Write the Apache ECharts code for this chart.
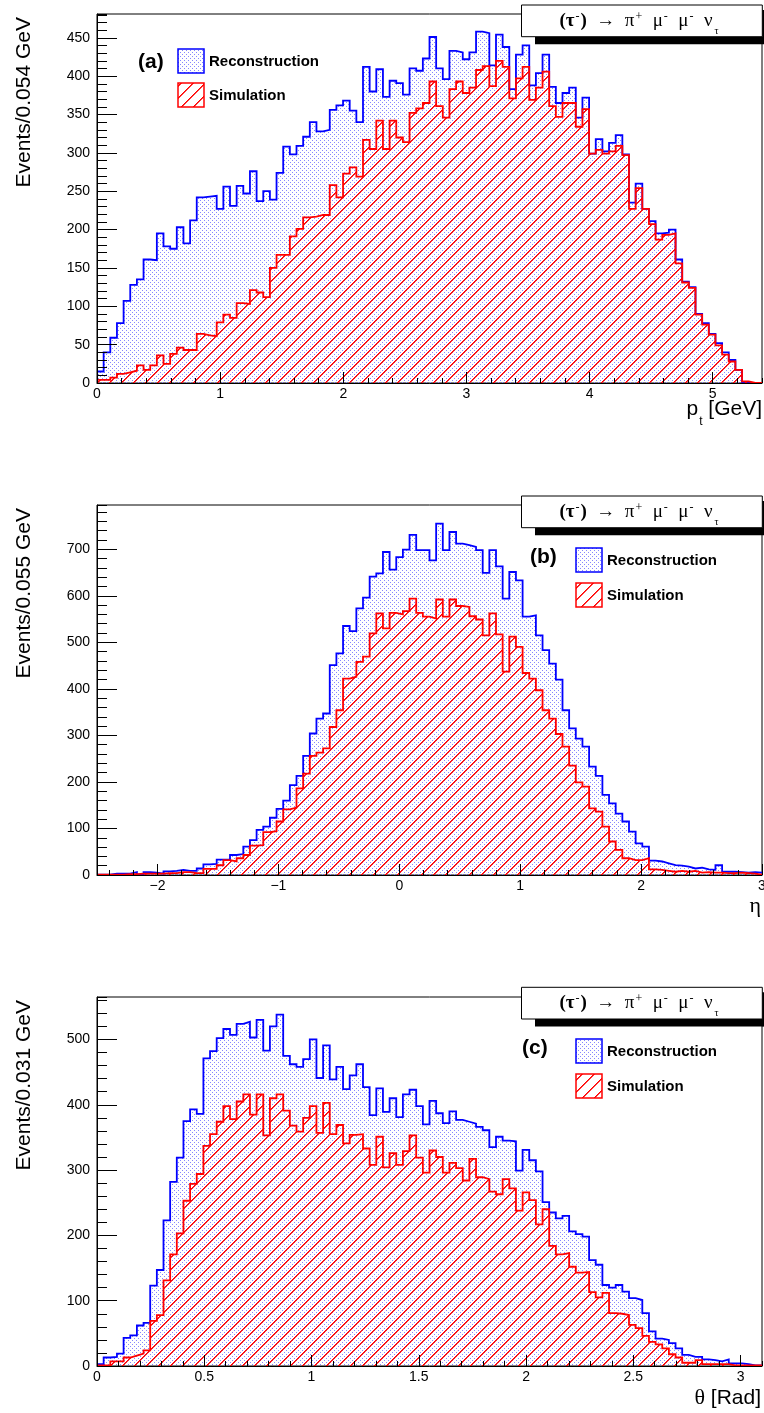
<!DOCTYPE html>
<html><head><meta charset="utf-8">
<script src="https://cdn.jsdelivr.net/npm/echarts@6/dist/echarts.min.js"></script>
<style>html,body{margin:0;padding:0;background:#fff}#c{width:764px;height:1413px}</style>
</head><body><div id="c"></div>
<script>
// ---------------- data ----------------
const seriesNames = ['Reconstruction', 'Simulation'];
const panelTags = ['(a)', '(b)', '(c)'];
const yTitles = ['Events/0.054 GeV', 'Events/0.055 GeV', 'Events/0.031 GeV'];

// bins: (a) pt 0..5.4, 100 bins; (b) eta -2.5..3.0, 100 bins; (c) theta 0..3.1, 100 bins
const PT_MIN = 0, PT_BIN = 0.054;
const ETA_MIN = -2.5, ETA_BIN = 0.055;
const TH_MIN = 0, TH_BIN = 0.031;

const recoPt = [15,40,59,78,107,128,135,161,160,195,
178,175,203,182,212,242,243,244,227,256,
231,257,247,276,237,250,239,274,308,298,
309,321,340,328,330,356,362,368,355,340,
412,380,409,373,394,391,376,410,407,423,
451,410,396,433,431,422,431,458,456,414,
454,438,383,428,440,388,404,428,386,365,
378,385,346,372,299,318,302,313,323,298,
235,260,227,211,195,196,200,161,132,125,
90,78,64,52,40,30,17,0,0,0];
const simPt = [4,4,7,12,14,16,23,17,23,36,
25,38,46,43,43,64,62,61,79,89,
85,104,103,121,118,112,150,167,167,191,
201,216,217,219,219,258,242,273,281,269,
317,305,342,305,342,320,314,352,358,365,
393,361,346,383,393,378,385,408,413,387,
420,412,371,397,412,369,385,406,361,347,
365,365,334,357,299,304,299,302,309,297,
227,254,227,207,187,193,195,156,131,124,
89,76,63,49,37,28,17,2,0,0];

const recoEta = [1,1,3,3,3,6,1,6,5,3,
8,9,11,9,9,14,23,24,33,33,
43,45,61,75,97,104,123,142,160,193,
213,256,304,336,347,451,476,535,524,573,
596,641,648,694,656,683,699,731,698,698,
676,755,698,737,712,709,705,698,649,698,
663,594,651,633,555,558,515,483,454,420,
354,315,293,276,233,213,172,154,132,115,
93,68,61,31,29,25,21,20,18,14,
16,12,11,21,7,7,6,5,6,5];
const simEta = [1,1,1,1,2,2,3,3,3,3,
4,4,6,6,4,4,13,13,21,32,
29,36,43,63,64,92,94,115,141,145,
186,218,256,263,272,318,354,422,426,458,
469,519,562,530,563,560,567,594,563,555,
551,592,555,592,578,576,556,549,515,562,
517,437,512,490,434,422,397,354,336,303,
276,235,199,190,143,136,104,72,54,36,
32,32,36,12,11,9,7,9,7,9,
5,6,5,5,4,4,5,4,3,1];

const recoTheta = [3,13,14,19,43,47,62,66,123,147,
223,282,319,375,393,386,471,482,502,516,
507,524,527,503,530,483,520,538,475,462,
458,470,500,441,491,439,458,424,445,462,
427,384,425,389,410,381,416,423,398,370,
406,387,372,390,377,374,371,366,361,335,
351,345,344,299,331,315,298,251,235,226,
230,206,202,198,162,155,124,120,124,114,
104,101,81,53,42,40,35,27,17,14,
14,10,9,7,10,4,4,3,1,1];
const simTheta = [1,1,7,7,13,16,19,24,69,78,
131,171,203,253,279,294,337,355,374,398,
378,405,416,385,416,353,410,416,391,368,
359,380,398,357,403,355,369,341,354,355,
333,308,351,304,326,308,329,353,319,296,
330,320,296,311,303,284,317,289,286,267,
263,286,272,238,266,254,217,240,184,171,
173,152,143,144,113,105,112,81,80,78,
63,58,46,37,33,27,18,13,5,5,
9,3,3,3,3,1,1,1,1,1];

// ---------------- helpers ----------------
function stepData(lo, w, vals) {
  const d = vals.map((v, i) => [+(lo + i * w).toFixed(5), v]);
  d.push([+(lo + vals.length * w).toFixed(5), vals[vals.length - 1]]);
  return d;
}
function dotCanvas() {
  const c = document.createElement('canvas'); c.width = 4; c.height = 4;
  const g = c.getContext('2d');
  g.fillStyle = 'rgb(135,135,255)'; g.fillRect(0, 0, 1, 1); g.fillRect(2, 2, 1, 1);
  return c;
}
function hatchCanvas() {
  const c = document.createElement('canvas'); c.width = 12; c.height = 12;
  const g = c.getContext('2d');
  for (let i = 0; i < 12; i++) {
    g.fillStyle = '#ff0000'; g.fillRect(i, 11 - i, 1, 1);
    g.fillStyle = 'rgba(255,0,0,0.75)'; g.fillRect(i, (12 - i) % 12, 1, 1);
  }
  return c;
}
const DOTS = dotCanvas(), HATCH = hatchCanvas();
const dotFill = { image: DOTS, repeat: 'repeat' };
const hatchFill = { image: HATCH, repeat: 'repeat' };

const SANS = 'Liberation Sans, Arial, sans-serif';
const SERIF = 'Liberation Serif, Times New Roman, serif';

const grids = [
  { top: 14, height: 369 },
  { top: 505, height: 370 },
  { top: 997, height: 369 }
];
const xSpec = [
  { min: 0, max: 5.4, major: { interval: 1 }, minor: { interval: 0.2 } },
  { min: -2.5, max: 3.0, major: { minInterval: 1, maxInterval: 1 }, minor: { minInterval: 0.2, maxInterval: 0.2 } },
  { min: 0, max: 3.1, major: { interval: 0.5 }, minor: { interval: 0.1 } }
];
const ySpec = [
  { max: 481, major: 50, minor: 10 },
  { max: 795, major: 100, minor: 20 },
  { max: 565, major: 100, minor: 20 }
];

function fmtNum(v) {
  const s = String(+v.toFixed(3));
  return v < 0 ? '\u2212' + s.slice(1) : s;
}

const xAxes = [], yAxes = [];
xSpec.forEach((s, g) => {
  xAxes.push(Object.assign({
    gridIndex: g, type: 'value', position: 'bottom', min: s.min, max: s.max, z: 10,
    axisLine: { show: true, onZero: false, lineStyle: { color: '#000', width: 1 } },
    axisTick: { show: true, inside: true, length: 11, lineStyle: { color: '#000', width: 1 } },
    axisLabel: { show: true, color: '#000', fontSize: 14, fontFamily: SANS, margin: 4,
      showMinLabel: s.min >= 0, showMaxLabel: g === 1, formatter: fmtNum },
    splitLine: { show: false }, minorTick: { show: false }
  }, s.major));
  xAxes.push(Object.assign({
    gridIndex: g, type: 'value', position: 'bottom', min: s.min, max: s.max, z: 10,
    axisLine: { show: false, onZero: false },
    axisTick: { show: true, inside: true, length: 5, lineStyle: { color: '#000', width: 1 } },
    axisLabel: { show: false }, splitLine: { show: false }
  }, s.minor));
});
ySpec.forEach((s, g) => {
  yAxes.push({
    gridIndex: g, type: 'value', position: 'left', min: 0, max: s.max, interval: s.major, z: 10,
    axisLine: { show: true, onZero: false, lineStyle: { color: '#000', width: 1 } },
    axisTick: { show: true, inside: true, length: 20, lineStyle: { color: '#000', width: 1 } },
    axisLabel: { show: true, color: '#000', fontSize: 14, fontFamily: SANS, margin: 7, showMaxLabel: false },
    splitLine: { show: false }
  });
  yAxes.push({
    gridIndex: g, type: 'value', position: 'left', min: 0, max: s.max, interval: s.minor, z: 10,
    axisLine: { show: false, onZero: false },
    axisTick: { show: true, inside: true, length: 10, lineStyle: { color: '#000', width: 1 } },
    axisLabel: { show: false }, splitLine: { show: false }
  });
});

const panels = [
  { lo: PT_MIN, w: PT_BIN, reco: recoPt, sim: simPt },
  { lo: ETA_MIN, w: ETA_BIN, reco: recoEta, sim: simEta },
  { lo: TH_MIN, w: TH_BIN, reco: recoTheta, sim: simTheta }
];
const series = [];
panels.forEach((p, g) => {
  series.push({
    name: seriesNames[0], type: 'line', xAxisIndex: 2 * g, yAxisIndex: 2 * g,
    data: stepData(p.lo, p.w, p.reco), step: 'end', symbol: 'none', showSymbol: false,
    lineStyle: { color: '#0000ff', width: 1.8, join: 'miter' }, itemStyle: { color: '#0000ff' },
    areaStyle: { color: dotFill, opacity: 1 }, z: 2, silent: true, animation: false
  });
  series.push({
    name: seriesNames[1], type: 'line', xAxisIndex: 2 * g, yAxisIndex: 2 * g,
    data: stepData(p.lo, p.w, p.sim), step: 'end', symbol: 'none', showSymbol: false,
    lineStyle: { color: '#ff0000', width: 1.8, join: 'miter' }, itemStyle: { color: '#ff0000' },
    areaStyle: { color: hatchFill, opacity: 1 }, z: 3, silent: true, animation: false
  });
});

// ---------------- decorations (titles, legends) ----------------
const graphic = [];
const titleBoxTop = [5, 496, 987.3];
const legendPos = [
  { tag: [138, 62], box: [178, 49], text: 209, dy: 34 },
  { tag: [530, 557], box: [576, 548], text: 607, dy: 35 },
  { tag: [522, 1048], box: [576, 1039], text: 607, dy: 35 }
];
const titleRich = {
  b: { fontFamily: SERIF, fontSize: 19, fontWeight: 'bold', lineHeight: 30, color: '#000' },
  n: { fontFamily: SERIF, fontSize: 19, lineHeight: 30, color: '#000' },
  sup: { fontFamily: SERIF, fontSize: 12, lineHeight: 11, verticalAlign: 'top', padding: [5, 1, 0, 1], color: '#000' },
  sub: { fontFamily: SERIF, fontSize: 10, lineHeight: 9, verticalAlign: 'top', padding: [20, 0, 0, 2], color: '#000' }
};
const titleText = '{b|(\u03c4}{sup|-}{b|)}{n|  \u2192  \u03c0}{sup|+}{n|  \u03bc}{sup|-}{n|  \u03bc}{sup|-}{n|  \u03bd}{sub|\u03c4}';

[0, 1, 2].forEach(g => {
  const t = titleBoxTop[g];
  graphic.push({ type: 'rect', z: 100, shape: { x: 535, y: t + 31.7, width: 229, height: 7.5 }, style: { fill: '#000' } });
  graphic.push({ type: 'rect', z: 100, shape: { x: 762, y: t + 5, width: 2, height: 34 }, style: { fill: '#000' } });
  graphic.push({ type: 'rect', z: 101, shape: { x: 521.5, y: t, width: 240.8, height: 31.7 }, style: { fill: '#fff', stroke: '#000', lineWidth: 1 } });
  graphic.push({ type: 'text', z: 102, x: 639, y: t + 16, style: { text: titleText, rich: titleRich, align: 'center', verticalAlign: 'middle', textAlign: 'center', textVerticalAlign: 'middle' } });

  const L = legendPos[g];
  graphic.push({ type: 'text', z: 102, x: L.tag[0], y: L.tag[1], style: { text: panelTags[g], font: 'bold 21px ' + SANS, fill: '#000', align: 'left', verticalAlign: 'middle', textAlign: 'left', textVerticalAlign: 'middle' } });
  graphic.push({ type: 'rect', z: 102, shape: { x: L.box[0], y: L.box[1], width: 26, height: 24 }, style: { fill: dotFill, stroke: '#0000ff', lineWidth: 1.5 } });
  graphic.push({ type: 'rect', z: 102, shape: { x: L.box[0], y: L.box[1] + L.dy, width: 26, height: 24 }, style: { fill: hatchFill, stroke: '#ff0000', lineWidth: 1.5 } });
  graphic.push({ type: 'text', z: 102, x: L.text, y: L.box[1] + 12.5, style: { text: seriesNames[0], font: 'bold 15px ' + SANS, fill: '#000', align: 'left', verticalAlign: 'middle', textAlign: 'left', textVerticalAlign: 'middle' } });
  graphic.push({ type: 'text', z: 102, x: L.text, y: L.box[1] + L.dy + 12.5, style: { text: seriesNames[1], font: 'bold 15px ' + SANS, fill: '#000', align: 'left', verticalAlign: 'middle', textAlign: 'left', textVerticalAlign: 'middle' } });

  graphic.push({ type: 'text', z: 102, x: 24, y: grids[g].top + 3, rotation: Math.PI / 2, style: { text: yTitles[g], font: '21px ' + SANS, fill: '#000', align: 'right', verticalAlign: 'middle', textAlign: 'right', textVerticalAlign: 'middle' } });
});
// x-axis titles
graphic.push({ type: 'text', z: 102, x: 762, y: 409, style: {
  text: '{p|p}{t|t}{n| [GeV]}', align: 'right', verticalAlign: 'middle', textAlign: 'right', textVerticalAlign: 'middle',
  rich: { p: { fontFamily: SANS, fontSize: 21, lineHeight: 36, color: '#000' },
          n: { fontFamily: SANS, fontSize: 21, lineHeight: 36, color: '#000' },
          t: { fontFamily: SANS, fontSize: 12, lineHeight: 11, verticalAlign: 'top', padding: [25, 0, 0, 1], color: '#000' } } } });
graphic.push({ type: 'text', z: 102, x: 761, y: 906, style: { text: '\u03b7', font: '22px ' + SERIF, fill: '#000', align: 'right', verticalAlign: 'middle', textAlign: 'right', textVerticalAlign: 'middle' } });
graphic.push({ type: 'text', z: 102, x: 761, y: 1398, style: {
  text: '{g|\u03b8}{n| [Rad]}', align: 'right', verticalAlign: 'middle', textAlign: 'right', textVerticalAlign: 'middle',
  rich: { g: { fontFamily: SERIF, fontSize: 22, lineHeight: 26, color: '#000' },
          n: { fontFamily: SANS, fontSize: 21, lineHeight: 26, color: '#000' } } } });

const chart = echarts.init(document.getElementById('c'), null, { renderer: 'canvas', width: 764, height: 1413 });
chart.setOption({
  backgroundColor: '#fff',
  animation: false,
  grid: grids.map(gr => ({ left: 97, top: gr.top, width: 665, height: gr.height, show: true,
    borderColor: '#000', borderWidth: 1, backgroundColor: 'transparent', containLabel: false, outerBoundsMode: 'none' })),
  xAxis: xAxes,
  yAxis: yAxes,
  series: series,
  graphic: graphic
});
</script>
</body></html>
